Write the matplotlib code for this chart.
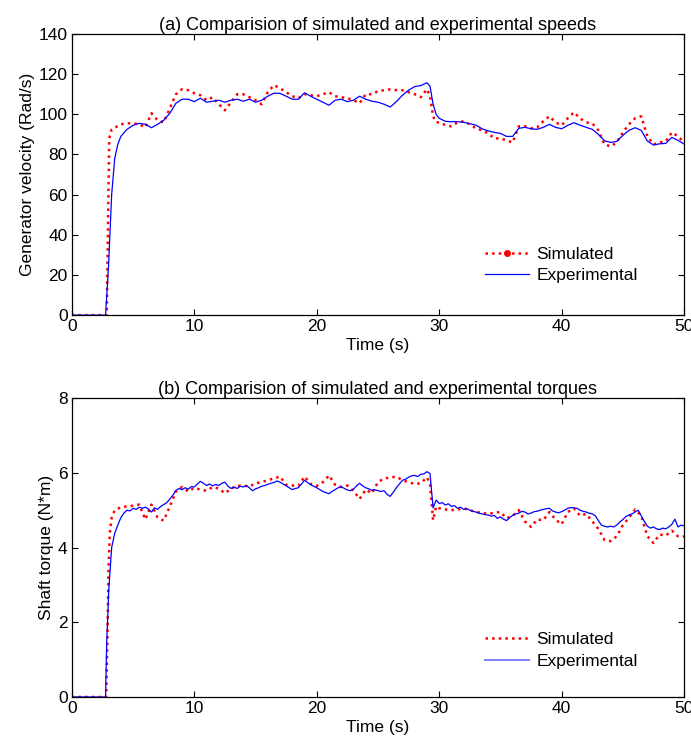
import numpy as np
import matplotlib
matplotlib.use("Agg")
import matplotlib.pyplot as plt
from matplotlib.lines import Line2D

plt.rcParams['font.family'] = ['Liberation Sans', 'DejaVu Sans']

# ---------------- (a) speeds ----------------
sim_speed_head_t = [0, 2.85, 3.05, 3.25, 3.5, 3.75]
sim_speed_head = [0, 0, 88, 92.5, 93.5, 94]
sim_speed_a = [95, 95.5, 95.5, 95, 93.5, 100.5, 97, 96, 103, 110,
               112.5, 112, 110.5, 109.5, 107, 108.5, 105, 102, 106, 110,
               110, 108.5, 107, 105, 111, 114.5, 113, 111, 109, 108,
               110, 109.5, 109, 110, 111, 109, 108.5, 108, 107, 105.5,
               110, 110, 111.5, 112, 112.4, 112, 112, 111, 110, 108.5,
               112.5]
sim_speed_mid = [109, 99, 96]
sim_speed_b = [96, 94.6, 94, 96, 96.5, 95, 93, 92, 90.5, 88,
               88, 87, 86, 94, 94, 93, 93.5, 96.5, 99, 96,
               94.5, 98, 101, 98, 96, 95.5, 92, 85, 84, 86,
               91, 95, 98, 99, 89, 85, 86, 86.5, 91, 89,
               86]

exp_speed_head_t = [0, 2.75, 3.0, 3.25, 3.5, 3.75]
exp_speed_head = [0, 0, 25, 60, 78, 85]
exp_speed_a = [89, 92.5, 94.5, 95.5, 95, 93.3, 95, 97, 100.5, 105.5,
               107.5, 107.5, 106.3, 108, 106, 106.5, 107, 106, 107, 107.5,
               106.5, 107.5, 106, 107, 109, 110.5, 110.4, 109, 107.5, 107.5,
               110.7, 109, 107.5, 106, 104.5, 107, 107.5, 106.3, 107, 109,
               107.5, 106.5, 106, 105, 103.6, 106.3, 109.5, 112, 113.8, 114.3,
               115.7]
exp_speed_mid = [114, 105, 100]
exp_speed_b = [98, 96.5, 96.3, 96.3, 96, 95.3, 94.6, 92.8, 91.7, 91,
               90.5, 89, 89, 93, 93.5, 92.8, 92.5, 93.5, 95, 93.5,
               92.8, 94.5, 95.8, 94.6, 93.5, 92.5, 90, 86.8, 86, 86.5,
               89.5, 92, 93.3, 92, 86.7, 84.7, 85.3, 85.5, 88.5, 87,
               85.2]

# ---------------- (b) torques ----------------
sim_torque_head_t = [0, 2.8, 2.9, 3.0, 3.1, 3.25]
sim_torque_head = [0, 0, 1.5, 3.5, 4.4, 4.8]
sim_torque_a = [5.0, 5.08, 5.1, 5.12, 5.15, 4.75, 5.15, 4.8, 4.72, 5.1,
                5.5, 5.62, 5.5, 5.6, 5.55, 5.52, 5.62, 5.58, 5.45, 5.58,
                5.65, 5.66, 5.63, 5.72, 5.75, 5.8, 5.85, 5.9, 5.68, 5.66,
                5.65, 5.9, 5.7, 5.65, 5.75, 5.93, 5.68, 5.62, 5.66, 5.52,
                5.3, 5.55, 5.45, 5.75, 5.85, 5.87, 5.9, 5.8, 5.75, 5.7,
                5.72, 5.88]
sim_torque_mid = [5.7, 4.73, 5.1]
sim_torque_b = [5.05, 5.02, 5.0, 5.02, 5.05, 5.0, 4.95, 4.93, 4.9, 4.93,
                4.95, 4.78, 4.85, 5.0, 4.7, 4.55, 4.75, 4.73, 4.95, 4.75,
                4.62, 4.95, 5.05, 4.85, 4.9, 4.7, 4.5, 4.2, 4.17, 4.3,
                4.6, 4.8, 5.02, 4.85, 4.3, 4.12, 4.35, 4.32, 4.45, 4.3,
                4.3]

exp_torque_head_t = [0, 2.75, 2.85, 2.95]
exp_torque_head = [0, 0, 1.5, 2.3]
exp_torque = [2.8, 4.0, 4.38, 4.6,
              4.8, 4.92, 5.0, 4.98,
              5.05, 5.02, 5.08, 5.05,
              5.08, 5.03, 4.95, 5.06,
              5.02, 5.1, 5.15, 5.2,
              5.3, 5.4, 5.53, 5.58,
              5.55, 5.6, 5.56, 5.63,
              5.62, 5.7, 5.77, 5.72,
              5.66, 5.7, 5.65, 5.69,
              5.66, 5.72, 5.75, 5.64,
              5.58, 5.62, 5.58, 5.64,
              5.62, 5.66, 5.6, 5.52,
              5.57, 5.6, 5.64, 5.66,
              5.69, 5.72, 5.74, 5.78,
              5.75, 5.7, 5.65, 5.6,
              5.55, 5.58, 5.6, 5.7,
              5.8, 5.74, 5.68, 5.64,
              5.6, 5.55, 5.5, 5.47,
              5.44, 5.5, 5.55, 5.6,
              5.63, 5.58, 5.54, 5.52,
              5.56, 5.65, 5.72, 5.65,
              5.6, 5.57, 5.53, 5.55,
              5.52, 5.5, 5.52, 5.42,
              5.37, 5.48, 5.6, 5.7,
              5.8, 5.83, 5.88, 5.92,
              5.93, 5.9, 5.96, 5.97,
              6.03, 5.98, 5.06, 5.27,
              5.18, 5.2, 5.14, 5.17,
              5.1, 5.12, 5.05, 5.08,
              5.02, 5.04, 5.0, 4.97,
              4.95, 4.92, 4.9, 4.88,
              4.87, 4.84, 4.86, 4.78,
              4.82, 4.76, 4.72, 4.8,
              4.86, 4.9, 4.92, 4.97,
              4.95, 4.9, 4.92, 4.96,
              4.97, 5.0, 5.02, 5.04,
              5.05, 4.98, 4.95, 4.93,
              4.96, 5.0, 5.05, 5.07,
              5.06, 5.05, 5.0, 4.97,
              4.95, 4.92, 4.9, 4.85,
              4.72, 4.6, 4.57, 4.55,
              4.57, 4.55, 4.6, 4.68,
              4.75, 4.83, 4.87, 4.9,
              4.95, 5.0, 4.85, 4.7,
              4.57, 4.52, 4.55, 4.5,
              4.48, 4.52, 4.5, 4.55,
              4.62, 4.76, 4.55, 4.6,
              4.58]

title_a = "(a) Comparision of simulated and experimental speeds"
title_b = "(b) Comparision of simulated and experimental torques"
ylabel_a = "Generator velocity (Rad/s)"
ylabel_b = "Shaft torque (N*m)"
xlabel = "Time (s)"
legend_labels = ["Simulated", "Experimental"]


def build(head_t, head, a, mid, b, start):
    t = np.concatenate([head_t, start + 0.5 * np.arange(len(a)),
                        [29.25, 29.5, 29.75], 30.0 + 0.5 * np.arange(len(b))])
    v = np.concatenate([head, a, mid, b])
    return t, v


ts_sim, vs_sim = build(sim_speed_head_t, sim_speed_head, sim_speed_a, sim_speed_mid, sim_speed_b, 4.0)
ts_exp, vs_exp = build(exp_speed_head_t, exp_speed_head, exp_speed_a, exp_speed_mid, exp_speed_b, 4.0)
tt_sim, vt_sim = build(sim_torque_head_t, sim_torque_head, sim_torque_a, sim_torque_mid, sim_torque_b, 3.5)
tt_exp = np.concatenate([exp_torque_head_t, 3.0 + 0.25 * np.arange(len(exp_torque))])
vt_exp = np.concatenate([exp_torque_head, exp_torque])

fig = plt.figure(figsize=(6.91, 7.38), dpi=100)
ax1 = fig.add_axes([0.104, 0.573, 0.886, 0.381])
ax2 = fig.add_axes([0.104, 0.0556, 0.886, 0.405])

FS = 12.5
TFS = 13


def style(ax, ylim, yticks):
    ax.set_xlim(0, 50)
    ax.set_ylim(*ylim)
    ax.set_xticks([0, 10, 20, 30, 40, 50])
    ax.set_yticks(yticks)
    ax.tick_params(direction='in', top=True, right=True, labelsize=FS,
                   length=4, width=0.8, pad=3)
    for s in ax.spines.values():
        s.set_linewidth(0.9)


ax1.plot(ts_sim, vs_sim, color='red', linestyle=':', linewidth=1.8)
ax1.plot(ts_exp, vs_exp, color='blue', linewidth=0.9)
style(ax1, (0, 140), range(0, 141, 20))
ax1.set_title(title_a, fontsize=TFS, pad=3)
ax1.set_xlabel(xlabel, fontsize=FS, labelpad=3)
ax1.set_ylabel(ylabel_a, fontsize=FS, labelpad=3)
h1 = [Line2D([], [], color='red', linestyle=':', linewidth=1.8, marker='.', markersize=8),
      Line2D([], [], color='blue', linewidth=0.9)]
ax1.legend(h1, legend_labels, loc='lower right', frameon=False, fontsize=FS,
           bbox_to_anchor=(0.95, 0.06), handlelength=2.5, handletextpad=0.45,
           labelspacing=0.3, numpoints=1)

ax2.plot(tt_sim, vt_sim, color='red', linestyle=':', linewidth=1.8)
ax2.plot(tt_exp, vt_exp, color='blue', linewidth=0.9)
style(ax2, (0, 8), range(0, 9, 2))
ax2.set_title(title_b, fontsize=TFS, pad=3)
ax2.set_xlabel(xlabel, fontsize=FS, labelpad=3)
ax2.set_ylabel(ylabel_b, fontsize=FS, labelpad=3)
h2 = [Line2D([], [], color='red', linestyle=':', linewidth=1.8),
      Line2D([], [], color='#7f7fff', linewidth=1.4)]
ax2.legend(h2, legend_labels, loc='lower right', frameon=False, fontsize=FS,
           bbox_to_anchor=(0.95, 0.04), handlelength=2.5, handletextpad=0.45,
           labelspacing=0.4)

fig.savefig('out.png', dpi=100)
